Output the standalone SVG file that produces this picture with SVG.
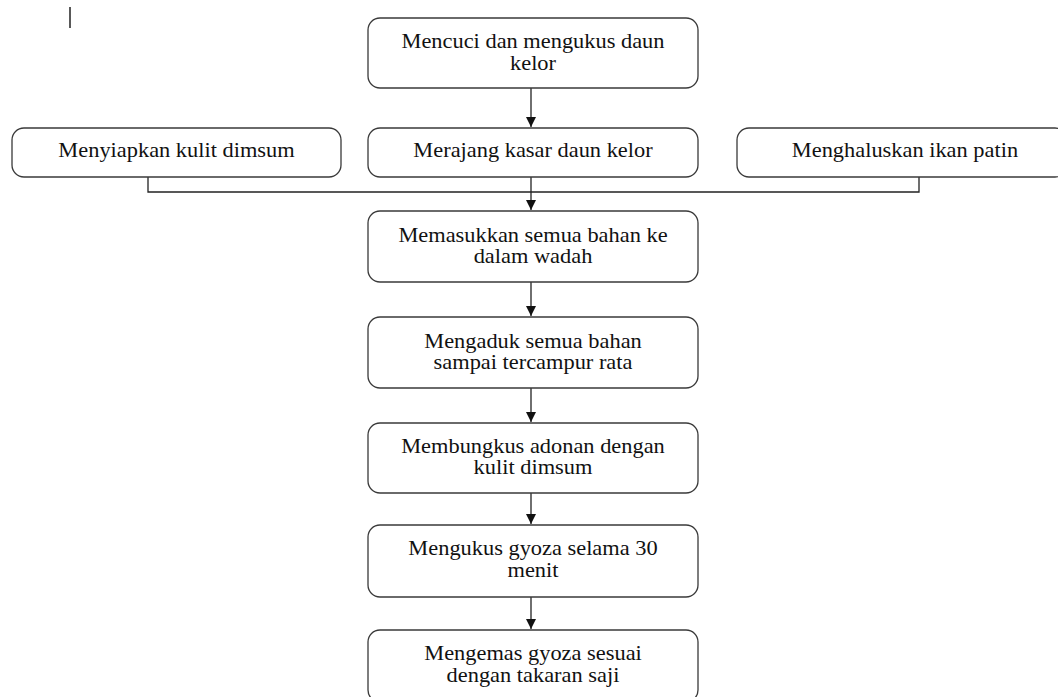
<svg xmlns="http://www.w3.org/2000/svg" width="1058" height="697" viewBox="0 0 1058 697">
<style>
.box{fill:#fff;stroke:#3a3a3a;stroke-width:1.3}
.t{font-family:"Liberation Serif","Times New Roman",serif;font-size:20px;fill:#111;text-anchor:middle}
.c{fill:none;stroke:#222;stroke-width:1.3}
</style>
<defs>
<marker id="ah" markerUnits="userSpaceOnUse" markerWidth="12" markerHeight="12" refX="10" refY="5" orient="auto">
<path d="M0,0 L10,5 L0,10 Z" fill="#111"/>
</marker>
</defs>
<rect width="1058" height="697" fill="#fff"/>
<line x1="70" y1="7" x2="70" y2="28" stroke="#222" stroke-width="1.5"/>
<g id="connectors">
<path class="c" d="M531,88 L531,127" marker-end="url(#ah)"/>
<path class="c" d="M148,177 L148,192 L919,192 L919,177"/>
<path class="c" d="M531,177 L531,210" marker-end="url(#ah)"/>
<path class="c" d="M531,282 L531,316" marker-end="url(#ah)"/>
<path class="c" d="M531,388 L531,422" marker-end="url(#ah)"/>
<path class="c" d="M531,493 L531,524" marker-end="url(#ah)"/>
<path class="c" d="M531,597 L531,629" marker-end="url(#ah)"/>
</g>
<g id="n1"><rect class="box" x="368" y="18" width="330" height="70" rx="12"/>
<g transform="scale(1.12,1)"><text class="t" x="475.9" y="48.5">Mencuci dan mengukus daun</text><text class="t" x="475.9" y="70">kelor</text></g></g>
<g id="n2"><rect class="box" x="12" y="128" width="329" height="49" rx="12"/>
<g transform="scale(1.12,1)"><text class="t" x="157.6" y="157">Menyiapkan kulit dimsum</text></g></g>
<g id="n3"><rect class="box" x="368" y="128" width="330" height="49" rx="12"/>
<g transform="scale(1.12,1)"><text class="t" x="475.9" y="157">Merajang kasar daun kelor</text></g></g>
<g id="n4"><rect class="box" x="737" y="128" width="330" height="49" rx="12"/>
<g transform="scale(1.12,1)"><text class="t" x="808" y="157">Menghaluskan ikan patin</text></g></g>
<g id="n5"><rect class="box" x="368" y="211" width="330" height="71" rx="12"/>
<g transform="scale(1.12,1)"><text class="t" x="475.9" y="242">Memasukkan semua bahan ke</text><text class="t" x="475.9" y="263">dalam wadah</text></g></g>
<g id="n6"><rect class="box" x="368" y="317" width="330" height="71" rx="12"/>
<g transform="scale(1.12,1)"><text class="t" x="475.9" y="348">Mengaduk semua bahan</text><text class="t" x="475.9" y="369">sampai tercampur rata</text></g></g>
<g id="n7"><rect class="box" x="368" y="423" width="330" height="70" rx="12"/>
<g transform="scale(1.12,1)"><text class="t" x="475.9" y="453.5">Membungkus adonan dengan</text><text class="t" x="475.9" y="474.5">kulit dimsum</text></g></g>
<g id="n8"><rect class="box" x="368" y="525" width="330" height="72" rx="12"/>
<g transform="scale(1.12,1)"><text class="t" x="475.9" y="555.5">Mengukus gyoza selama 30</text><text class="t" x="475.9" y="577">menit</text></g></g>
<g id="n9"><rect class="box" x="368" y="630" width="330" height="72" rx="12"/>
<g transform="scale(1.12,1)"><text class="t" x="475.9" y="660.5">Mengemas gyoza sesuai</text><text class="t" x="475.9" y="682">dengan takaran saji</text></g></g>
</svg>
